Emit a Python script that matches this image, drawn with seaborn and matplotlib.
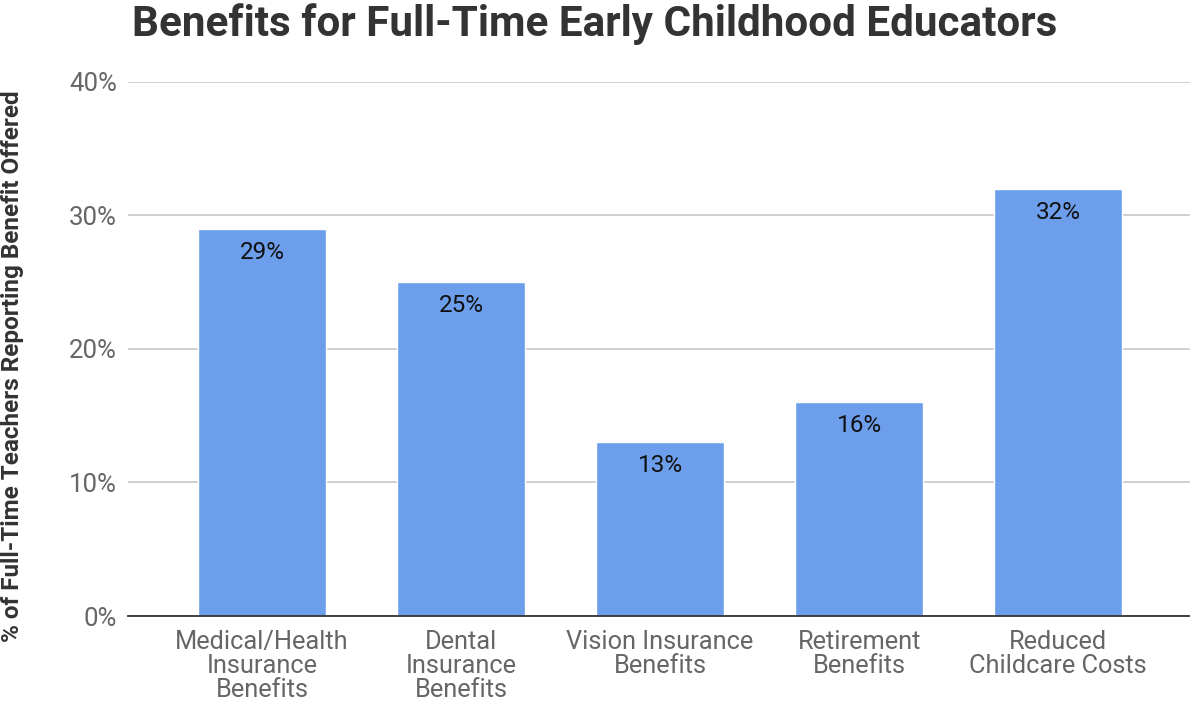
import matplotlib
matplotlib.use("Agg")
import matplotlib.pyplot as plt
import seaborn as sns
import pandas as pd
from matplotlib.ticker import FuncFormatter

categories = [
    "Medical/Health\nInsurance\nBenefits",
    "Dental\nInsurance\nBenefits",
    "Vision Insurance\nBenefits",
    "Retirement\nBenefits",
    "Reduced\nChildcare Costs",
]
values = [29, 25, 13, 16, 32]
y_ticks = [0, 10, 20, 30, 40]

sns.set_theme(style="white")
plt.rcParams["font.family"] = ["Roboto", "DejaVu Sans"]

df = pd.DataFrame({"benefit": categories, "pct": values})

fig = plt.figure(figsize=(11.9, 7.02), dpi=100)
ax = fig.add_axes([0.1076, 0.1225, 0.892, 0.7608])

sns.barplot(data=df, x="benefit", y="pct", color="#6d9eeb", saturation=1,
            width=0.643, ax=ax, zorder=3)

ax.set_xlim(-0.673, 4.66)
ax.set_ylim(0, 40)
ax.set_yticks(y_ticks)
ax.yaxis.set_major_formatter(FuncFormatter(lambda v, _: f"{v:.0f}%"))
ax.grid(axis="y", color="#cccccc", linewidth=1.3, zorder=0)
ax.grid(axis="x", visible=False)

for s in ["top", "right", "left"]:
    ax.spines[s].set_visible(False)
ax.spines["bottom"].set_color("#333333")
ax.spines["bottom"].set_linewidth(1.3)
ax.spines["bottom"].set_zorder(4)

ax.tick_params(axis="y", length=0, pad=8, labelsize=18.5, labelcolor="#666666")
ax.tick_params(axis="x", length=0, pad=10, labelsize=18.3, labelcolor="#666666")
for lbl in ax.get_xticklabels():
    lbl.set_linespacing(1.0)

ax.set_xlabel("")
ax.set_ylabel("% of Full-Time Teachers Reporting Benefit Offered",
              fontsize=17.5, fontweight="bold", color="#333333")
ax.yaxis.set_label_coords(-0.098, 0.468)

for i, v in enumerate(values):
    ax.annotate(f"{v}%", xy=(i, v), xytext=(0, -8.5), textcoords="offset points",
                ha="center", va="top", fontsize=17.5, color="#111111", zorder=5)

fig.suptitle("Benefits for Full-Time Early Childhood Educators",
             x=0.5, y=0.995, fontsize=30.4, fontweight="bold", color="#333333")

fig.savefig("out.png", dpi=100, facecolor="white")
